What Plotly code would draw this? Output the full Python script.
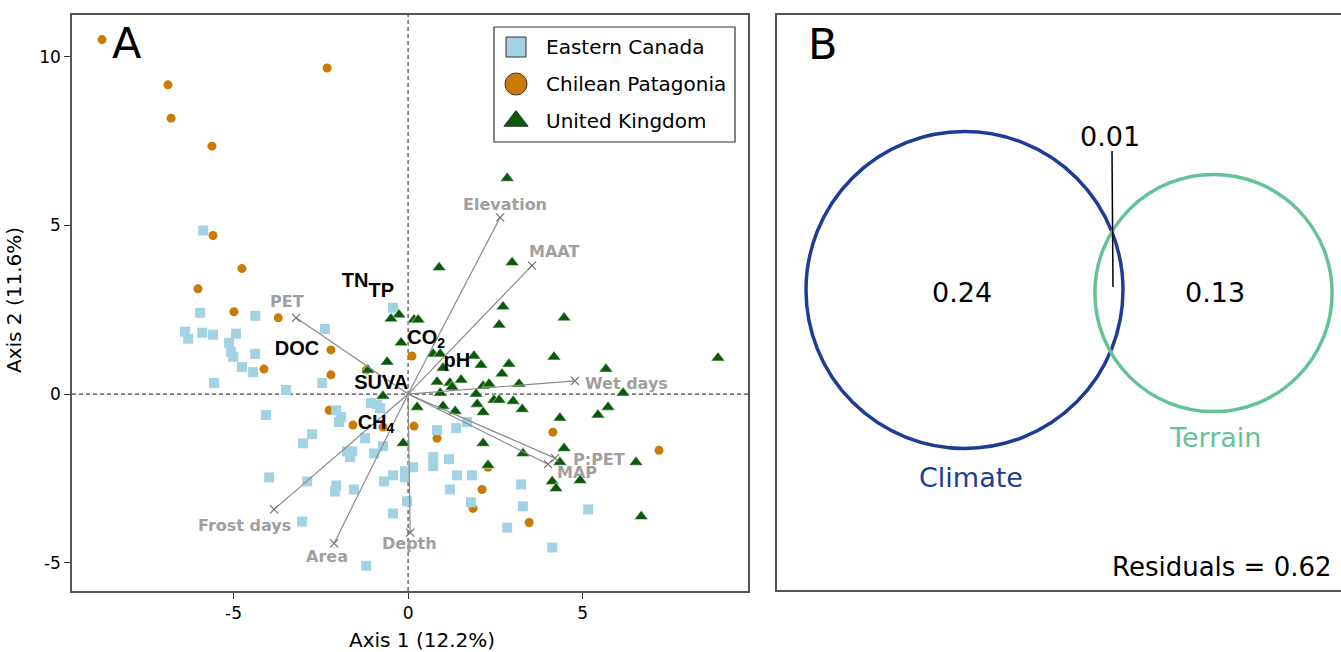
import plotly.graph_objects as go

W, H = 1341, 652

# ---------------- Panel A: PCA site scores ----------------
canada_x = [-5.87, -5.96, -4.38, -2.38, -6.39, -6.30, -5.90, -5.59, -4.93, -5.13,
            -5.07, -5.01, -4.38, -4.76, -4.44, -5.56, -3.50, -2.46, -0.43, -4.07,
            -2.75, -3.01, -2.06, -1.92, -1.98, -1.23, -1.75, -1.60, -1.66, -0.97,
            -0.72, -3.98, -2.89, -2.06, -2.09, -1.55, -0.69, -0.43, -0.09, -0.09,
            -0.03, -0.43, -3.04, -1.20, -1.06, -0.89, -0.80, 0.83, 1.38, 1.69,
            0.14, 0.72, 0.72, 1.17, 1.40, 1.83, 1.20, 1.80, 3.24, 3.29,
            2.84, 4.13, 5.16]
canada_y = [4.85, 2.41, 2.32, 1.93, 1.85, 1.64, 1.82, 1.76, 1.79, 1.52,
            1.25, 1.10, 1.19, 0.80, 0.65, 0.33, 0.12, 0.33, 2.56, -0.62,
            -1.19, -1.46, -0.48, -0.68, -0.83, -1.31, -1.70, -1.70, -1.87, -1.76,
            -1.55, -2.47, -2.59, -2.71, -2.89, -2.83, -2.59, -2.41, -2.29, -2.47,
            -3.18, -3.54, -3.78, -5.09, -0.27, -0.30, -0.42, -1.07, -1.01, -0.83,
            -2.17, -1.87, -2.14, -1.93, -2.41, -2.41, -2.83, -3.21, -2.68, -3.33,
            -3.96, -4.55, -3.42]

patagonia_x = [-8.77, -6.88, -6.79, -5.62, -2.32, -5.59, -4.76, -6.02, -4.99, -3.72,
               -4.13, -2.21, -2.21, -1.20, 0.11, -2.26, -1.58, -0.72, 0.17, 0.83,
               4.15, 2.29, 2.12, 1.86, 3.47, 7.19]
patagonia_y = [10.51, 9.17, 8.18, 7.35, 9.67, 4.70, 3.72, 3.12, 2.44, 2.26,
               0.74, 1.31, 0.57, 0.71, 1.13, -0.48, -0.92, -0.98, -0.95, -1.31,
               -1.13, -2.17, -2.83, -3.39, -3.81, -1.67]

uk_x = [2.84, 0.89, 2.98, 2.72, 2.61, 4.47, 0.17, 0.29, -0.26, -0.49,
        -0.20, -0.60, -1.15, 0.72, 0.92, 1.00, 1.89, 2.09, 2.89, 2.69,
        4.18, 5.67, 8.88, 0.83, 1.20, 1.26, 1.52, 2.15, 2.32, 3.18,
        0.92, 1.95, 6.16, -0.72, 2.46, 2.61, 3.01, 1.98, 1.00, 1.35,
        2.15, 0.26, 3.27, 4.35, 5.44, 5.73, -0.14, 2.15, 3.29, 4.47,
        4.35, 2.29, 6.53, 4.13, 4.24, 4.93, 6.68]
uk_y = [6.40, 3.75, 3.90, 2.59, 2.05, 2.26, 2.20, 2.20, 2.35, 2.23,
        1.52, 0.95, 0.71, 1.19, 1.19, 0.77, 1.13, 0.86, 0.89, 0.60,
        1.10, 0.74, 1.07, 0.36, 0.33, 0.21, 0.42, 0.24, 0.30, 0.30,
        0.03, 0.00, 0.03, -0.06, -0.18, -0.18, -0.21, -0.30, -0.36, -0.51,
        -0.54, -0.39, -0.45, -0.71, -0.62, -0.39, -1.46, -1.46, -1.76, -1.61,
        -2.02, -2.11, -2.02, -2.59, -2.80, -2.56, -3.63]

# environmental fitted vectors
env_names = ["Elevation", "MAAT", "Wet days", "P:PET", "MAP",
             "Depth", "Area", "Frost days", "PET"]
env_x = [2.64, 3.55, 4.78, 4.21, 4.01, 0.06, -2.12, -3.84, -3.21]
env_y = [5.24, 3.81, 0.39, -1.90, -2.08, -4.11, -4.43, -3.42, 2.26]

# response variable scores
resp_names = ["TN", "TP", "CO<sub>2</sub>", "pH", "DOC", "SUVA", "CH<sub>4</sub>"]
resp_x = [-1.52, -0.77, 0.52, 1.40, -3.18, -0.77, -0.92]
resp_y = [3.33, 3.04, 1.64, 0.95, 1.31, 0.30, -0.89]

legend_names = ["Eastern Canada", "Chilean Patagonia", "United Kingdom"]

# ---------------- Panel B: variance partitioning ----------------
climate_only = 0.24
shared = 0.01
terrain_only = 0.13
residuals = 0.62

# ---------------- styles ----------------
C_CANADA = "#a3d3e3"
C_PATAG = "#cc7a06"
C_UK = "#0b5a0b"
C_CLIM = "#1c3c96"
C_TERR = "#64c396"
GRAY_LBL = "#a0a0a0"
AX_COL = "#555555"

# label offsets (px) from each vector tip: right, up
env_dx = [5, 22, 52, 44, 29, -1, -7, -30, -9]
env_dy = [13, 14, -3, -1, -8, -11, -13, -16, 16]

fig = go.Figure()

fig.add_trace(go.Scatter(x=patagonia_x, y=patagonia_y, mode="markers",
                         marker=dict(symbol="circle", size=9, color=C_PATAG, line=dict(width=0)),
                         xaxis="x", yaxis="y"))
fig.add_trace(go.Scatter(x=canada_x, y=canada_y, mode="markers",
                         marker=dict(symbol="square", size=10, color=C_CANADA, line=dict(width=0)),
                         xaxis="x", yaxis="y"))
fig.add_trace(go.Scatter(x=uk_x, y=uk_y, mode="markers",
                         marker=dict(symbol="triangle-up", size=12, color=C_UK,
                                     line=dict(width=0.6, color="#e8f3e8")),
                         xaxis="x", yaxis="y"))

# vectors from the origin
vx, vy = [], []
for x, y in zip(env_x, env_y):
    vx += [0, x, None]
    vy += [0, y, None]
fig.add_trace(go.Scatter(x=vx, y=vy, mode="lines",
                         line=dict(color="#8a8a8a", width=1.2), xaxis="x", yaxis="y"))
fig.add_trace(go.Scatter(x=env_x, y=env_y, mode="markers",
                         marker=dict(symbol="x-thin", size=8,
                                     line=dict(width=1.2, color="#707070")),
                         xaxis="x", yaxis="y"))

# response labels
fig.add_trace(go.Scatter(x=resp_x, y=resp_y, mode="text",
                         text=["<b>%s</b>" % t for t in resp_names],
                         textposition="middle center",
                         textfont=dict(family="Liberation Sans", size=20, color="black"),
                         xaxis="x", yaxis="y"))

annotations = []
for name, x, y, dx, dy in zip(env_names, env_x, env_y, env_dx, env_dy):
    annotations.append(dict(x=x, y=y, xref="x", yref="y", text="<b>%s</b>" % name,
                            showarrow=False, xshift=dx, yshift=dy,
                            xanchor="center", yanchor="middle",
                            font=dict(family="DejaVu Sans", size=16, color=GRAY_LBL)))

# legend (drawn on a full-page overlay axis)
leg_y = [47, 84, 121]
fig.add_trace(go.Scatter(x=[516, 516, 516], y=leg_y, mode="markers",
                         marker=dict(symbol=["square", "circle", "triangle-up"],
                                     size=[20, 22, 21],
                                     color=[C_CANADA, C_PATAG, C_UK],
                                     opacity=1,
                                     line=dict(width=1, color="#333333")),
                         xaxis="x3", yaxis="y3"))
for name, yy in zip(legend_names, leg_y):
    annotations.append(dict(x=544, y=yy, xref="x3", yref="y3", text=name, showarrow=False,
                            xanchor="left", yanchor="middle",
                            font=dict(family="DejaVu Sans", size=20, color="black")))

# panel letters and axis titles
annotations += [
    dict(x=126.5 / W, y=1 - 43 / H, xref="paper", yref="paper", text="A", showarrow=False,
         xanchor="center", yanchor="middle", font=dict(family="DejaVu Sans", size=43)),
    dict(x=822.5 / W, y=1 - 43.5 / H, xref="paper", yref="paper", text="B", showarrow=False,
         xanchor="center", yanchor="middle", font=dict(family="DejaVu Sans", size=43)),
    dict(x=422 / W, y=1 - 640 / H, xref="paper", yref="paper", text="Axis 1 (12.2%)",
         showarrow=False, xanchor="center", yanchor="middle",
         font=dict(family="DejaVu Sans", size=20)),
    dict(x=14 / W, y=1 - 300 / H, xref="paper", yref="paper", text="Axis 2 (11.6%)",
         showarrow=False, xanchor="center", yanchor="middle", textangle=-90,
         font=dict(family="DejaVu Sans", size=20)),
]

# ---- Venn diagram: circle radius scales with sqrt of explained variance ----
K = 317.0
r_clim = K * (climate_only + shared) ** 0.5
r_terr = K * (terrain_only + shared) ** 0.5
cc = (964.5, 290.0)
tc = (1213.5, 293.0)

shapes = [
    dict(type="line", xref="x", yref="y domain", x0=0, x1=0, y0=0, y1=1,
         line=dict(color="#444444", width=1.2, dash="4px,3px"), layer="below"),
    dict(type="line", xref="x domain", yref="y", x0=0, x1=1, y0=0, y1=0,
         line=dict(color="#444444", width=1.2, dash="4px,3px"), layer="below"),
    dict(type="rect", xref="paper", yref="paper", x0=494 / W, x1=735 / W,
         y0=1 - 142 / H, y1=1 - 27 / H, line=dict(color="#333333", width=1.2),
         layer="below"),
    dict(type="circle", xref="x2", yref="y2",
         x0=cc[0] - r_clim, x1=cc[0] + r_clim, y0=cc[1] - r_clim, y1=cc[1] + r_clim,
         line=dict(color=C_CLIM, width=3.5)),
    dict(type="circle", xref="x2", yref="y2",
         x0=tc[0] - r_terr, x1=tc[0] + r_terr, y0=tc[1] - r_terr, y1=tc[1] + r_terr,
         line=dict(color=C_TERR, width=3.5)),
    dict(type="line", xref="x2", yref="y2", x0=1112, x1=1113, y0=151, y1=287,
         line=dict(color="black", width=1.5)),
]

vf = dict(family="DejaVu Sans", size=27, color="black")
annotations += [
    dict(x=962, y=292, xref="x2", yref="y2", text="%.2f" % climate_only, showarrow=False,
         xanchor="center", yanchor="middle", font=vf),
    dict(x=1215, y=292, xref="x2", yref="y2", text="%.2f" % terrain_only, showarrow=False,
         xanchor="center", yanchor="middle", font=vf),
    dict(x=1110, y=136, xref="x2", yref="y2", text="%.2f" % shared, showarrow=False,
         xanchor="center", yanchor="middle", font=vf),
    dict(x=971, y=477, xref="x2", yref="y2", text="Climate", showarrow=False,
         xanchor="center", yanchor="middle", font=dict(family="DejaVu Sans", size=27, color=C_CLIM)),
    dict(x=1215, y=437, xref="x2", yref="y2", text="Terrain", showarrow=False,
         xanchor="center", yanchor="middle", font=dict(family="DejaVu Sans", size=27, color=C_TERR)),
    dict(x=1334, y=567, xref="x2", yref="y2", text="Residuals = %.2f" % residuals,
         showarrow=False, xanchor="right", yanchor="middle",
         font=dict(family="DejaVu Sans", size=26, color="black")),
]

fig.update_layout(
    width=W, height=H, margin=dict(l=0, r=0, t=0, b=0),
    paper_bgcolor="white", plot_bgcolor="rgba(0,0,0,0)",
    showlegend=False,
    font=dict(family="DejaVu Sans", color="black"),
    xaxis=dict(domain=[72 / W, 748 / W], range=[-9.63, 9.74], anchor="y",
               tickvals=[-5, 0, 5], ticktext=["-5", "0", "5"], ticks="outside", ticklen=6,
               tickwidth=1.3, tickcolor="#333333", showline=True, mirror=True,
               linecolor=AX_COL, linewidth=1.5, showgrid=False, zeroline=False,
               tickfont=dict(size=17, family="DejaVu Sans")),
    yaxis=dict(domain=[1 - 591 / H, 1 - 15 / H], range=[-5.84, 11.24], anchor="x",
               tickvals=[-5, 0, 5, 10], ticktext=["-5", "0", "5", "10"], ticks="outside",
               ticklen=6, tickwidth=1.3, tickcolor="#333333", showline=True, mirror=True,
               linecolor=AX_COL, linewidth=1.5, showgrid=False, zeroline=False,
               tickfont=dict(size=17, family="DejaVu Sans")),
    xaxis2=dict(domain=[777 / W, 1], range=[777, 1341], anchor="y2", showticklabels=False,
                ticks="", showgrid=False, zeroline=False, showline=True, mirror=True,
                linecolor=AX_COL, linewidth=1.5),
    yaxis2=dict(domain=[1 - 590 / H, 1 - 15 / H], range=[590, 15], anchor="x2",
                showticklabels=False, ticks="", showgrid=False, zeroline=False,
                showline=True, linecolor=AX_COL, linewidth=1.5),
    xaxis3=dict(domain=[0, 1], range=[0, W], anchor="y3", visible=False),
    yaxis3=dict(domain=[0, 1], range=[H, 0], anchor="x3", visible=False),
    shapes=shapes,
    annotations=annotations,
)

fig.write_html("out.html")
